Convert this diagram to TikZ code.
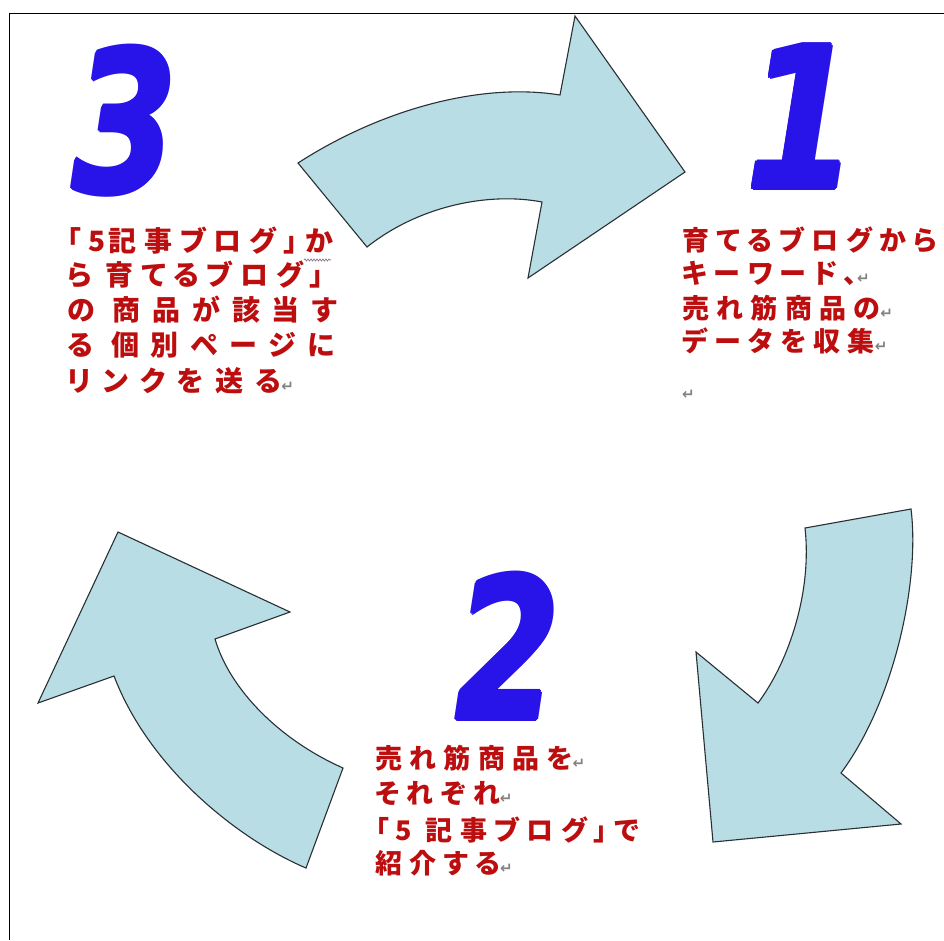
\documentclass[tikz,border=0pt]{standalone}
\usepackage{fontspec}
\usepackage{graphicx}
\usetikzlibrary{decorations.pathmorphing}
\newfontfamily\jp{Noto Sans CJK JP}[LetterSpace=27,RawFeature=+palt]
\newfontfamily\jpw{Noto Sans CJK JP}[LetterSpace=42,RawFeature=+palt]
\newfontfamily\dejavu{DejaVu Sans}
\newfontfamily\digitfont{DejaVu Sans}[UprightFont=*, BoldFont=*-Bold, BoldItalicFont=* Bold Oblique]
\definecolor{tred}{RGB}{188,14,14}
\definecolor{dblue}{RGB}{40,20,232}
\definecolor{afill}{RGB}{184,221,228}
\definecolor{aline}{RGB}{40,48,52}
\definecolor{retgray}{RGB}{130,130,130}
\newcommand{\ret}{{\dejavu\fontsize{15}{15}\selectfont\color{retgray}↵}}
\newcommand{\heavy}[1]{%
  \rlap{\hspace{-2.5pt}#1}\rlap{\hspace{2.5pt}#1}%
  \rlap{\raisebox{2.5pt}{#1}}\rlap{\raisebox{-2.5pt}{#1}}%
  \rlap{\hspace{-1.8pt}\raisebox{1.8pt}{#1}}\rlap{\hspace{1.8pt}\raisebox{1.8pt}{#1}}%
  \rlap{\hspace{-1.8pt}\raisebox{-1.8pt}{#1}}\rlap{\hspace{1.8pt}\raisebox{-1.8pt}{#1}}%
  #1}
\begin{document}
\begin{tikzpicture}[x=1pt,y=-1pt,
  arrowshape/.style={fill=afill,draw=aline,line width=1.1pt,line join=miter},
  digit/.style={font=\digitfont\bfseries\itshape\fontsize{196}{196}\selectfont,text=dblue,anchor=base,inner sep=0pt},
  txt/.style={font=\jp\bfseries\fontsize{27}{27}\selectfont,text=tred,anchor=base west,inner sep=0pt},
  txtbig/.style={txt,font=\jpw\bfseries\fontsize{28}{28}\selectfont},
  txtbign/.style={txt,font=\jp\bfseries\fontsize{28}{28}\selectfont},
  frameline/.style={draw=black,line width=1.4pt}]
\useasboundingbox (0,0) rectangle (944,940);
\fill[white] (0,0) rectangle (944,940);
% frame
\coordinate (fTL) at (9.5,13.5);
\coordinate (fTR) at (944,13.5);
\coordinate (fBL) at (9.5,940);
\draw[frameline] (fTR) -- (fTL) -- (fBL);
% top arrow (3 -> 1)
\draw[arrowshape] (298,163) .. controls (380,110) and (480,82) .. (560,95)
  -- (575,16) -- (685,172) -- (528,278) -- (542,202)
  .. controls (490,192) and (420,205) .. (367,247) -- cycle;
% right arrow (1 -> 2)
\draw[arrowshape] (805,528) -- (911,509)
  .. controls (920,580) and (895,700) .. (841,773)
  -- (901,824) -- (713,842) -- (696,652) -- (758,703)
  .. controls (790,660) and (812,590) .. (805,528) -- cycle;
% left arrow (2 -> 3)
\draw[arrowshape] (118,532) -- (290,612) -- (215,639)
  .. controls (230,690) and (280,740) .. (343,768)
  -- (306,868)
  .. controls (240,840) and (150,770) .. (114,676)
  -- (38,703) -- cycle;
% digits
\node[digit] (d3) at (125,192) {\scalebox{0.77}[1]{\heavy{3}}};
\node[digit] (d1) at (802,188) {\scalebox{0.82}[1]{\heavy{1}}};
\node[digit] (d2) at (508,719) {\scalebox{0.77}[1]{\heavy{2}}};
% text 3
\node[txtbign] (t3a) at (67,251) {「5\hspace{3pt}記事ブログ」か};
\node[txtbign] (t3b) at (67,285) {ら\hspace{14pt}育てるブログ」};
\node[txtbig] (t3c) at (67,320) {の 商品が該当す};
\node[txtbig] (t3d) at (67,355) {る 個別ページに};
\node[txtbig] (t3e) at (67,391) {リンクを送る\ret};
\draw[draw=retgray!80!violet,line width=0.6pt,decorate,decoration={snake,amplitude=1.1pt,segment length=3pt}] (304,260) -- (331,260);
% text 1
\node[txt] (t1a) at (682,250) {育てるブログから};
\node[txt] (t1b) at (682,283) {キーワード、\ret};
\node[txt] (t1c) at (682,318) {売れ筋商品の\ret};
\node[txt] (t1d) at (682,351) {データを収集\ret};
\node[txt] (t1e) at (682,399) {\ret};
% text 2
\node[txt] (t2a) at (375,768) {売れ筋商品を\ret};
\node[txt] (t2b) at (375,803) {それぞれ\ret};
\node[txt] (t2c) at (375,840) {「5 記事ブログ」で};
\node[txt] (t2d) at (375,873) {紹介する\ret};
\end{tikzpicture}
\end{document}
